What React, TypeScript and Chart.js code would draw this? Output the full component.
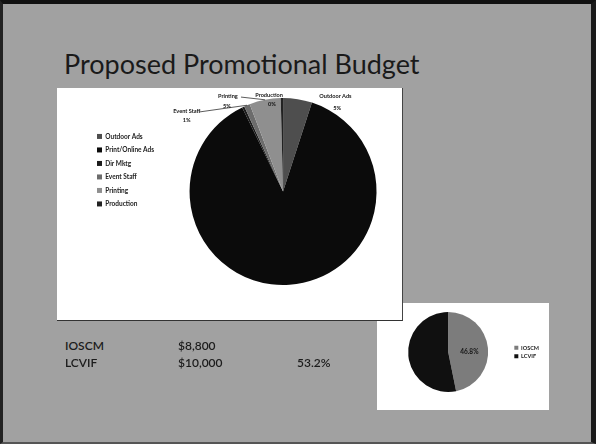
import React, { useEffect, useRef } from "react";
import { Chart, registerables } from "chart.js";
Chart.register(...registerables);

const titleText = "Proposed Promotional Budget";

const categories = ["Outdoor Ads", "Print/Online Ads", "Dir Mktg", "Event Staff", "Printing", "Production"];
const budgetShare = [500, 8780, 40, 100, 540, 40];
const sliceColors = ["#4e4e4e", "#0b0b0b", "#1c1c1c", "#6c6c6c", "#8f8f8f", "#222222"];

const orgNames = ["IOSCM", "LCVIF"];
const orgBudgets = [8800, 10000];
const orgColors = ["#7c7c7c", "#101010"];

const sliceLabelPlugin = {
  id: "sliceLabels",
  afterDatasetsDraw(chart: any, _args: any, opts: any) {
    if (!opts || !opts.items) return;
    const meta = chart.getDatasetMeta(0);
    const data = chart.data.datasets[0].data as number[];
    const total = data.reduce((a: number, b: number) => a + b, 0);
    const ctx = chart.ctx as CanvasRenderingContext2D;
    ctx.save();
    ctx.font = opts.font;
    ctx.fillStyle = opts.color;
    ctx.textAlign = "center";
    ctx.textBaseline = "middle";
    opts.items.forEach((item: any) => {
      const arc = meta.data[item.index];
      const p = arc.getProps(["x", "y", "outerRadius", "startAngle", "endAngle"], true);
      const r = p.outerRadius;
      const pct = ((data[item.index] / total) * 100).toFixed(opts.decimals) + "%";
      if (item.leader) {
        const mid = (p.startAngle + p.endAngle) / 2;
        ctx.strokeStyle = opts.color;
        ctx.lineWidth = 0.7;
        ctx.beginPath();
        ctx.moveTo(p.x + item.leader[0] * r, p.y + item.leader[1] * r);
        ctx.lineTo(p.x + Math.cos(mid) * r, p.y + Math.sin(mid) * r);
        ctx.stroke();
      }
      if (item.name) ctx.fillText(String(chart.data.labels[item.index]), p.x + item.name[0] * r, p.y + item.name[1] * r);
      ctx.fillText(pct, p.x + item.pct[0] * r, p.y + item.pct[1] * r);
    });
    ctx.restore();
  },
};

function MainPie() {
  const ref = useRef<HTMLCanvasElement>(null);
  useEffect(() => {
    const chart = new Chart(ref.current as HTMLCanvasElement, {
      type: "pie",
      data: {
        labels: categories,
        datasets: [{ data: budgetShare, backgroundColor: sliceColors, borderWidth: 0 }],
      },
      options: {
        animation: false,
        responsive: false,
        maintainAspectRatio: false,
        layout: { padding: { left: 33, right: 0, top: 10, bottom: 35 } },
        plugins: {
          legend: {
            position: "left",
            align: "start",
            title: { display: true, text: " ", padding: { top: 21, bottom: 0 }, font: { size: 6 } },
            labels: {
              boxWidth: 5,
              boxHeight: 5,
              padding: 7,
              color: "#222",
              font: { family: "Lato", size: 6.5, weight: "bold" },
            },
          },
          tooltip: { enabled: false },
          sliceLabels: {
            font: "bold 5.6px Lato",
            color: "#151515",
            decimals: 0,
            items: [
              { index: 0, name: [0.56, -1.02], pct: [0.58, -0.89] },
              { index: 3, name: [-1.03, -0.86], pct: [-1.03, -0.763], leader: [-0.9, -0.85] },
              { index: 4, name: [-0.59, -1.02], pct: [-0.6, -0.914], leader: [-0.45, -1.01] },
              { index: 5, name: [-0.15, -1.03], pct: [-0.12, -0.935] },
            ],
          },
        } as any,
      },
      plugins: [sliceLabelPlugin],
    });
    return () => chart.destroy();
  }, []);
  return <canvas ref={ref} width={345} height={232} style={{ width: 345, height: 232, display: "block" }} />;
}

function SmallPie() {
  const ref = useRef<HTMLCanvasElement>(null);
  useEffect(() => {
    const chart = new Chart(ref.current as HTMLCanvasElement, {
      type: "pie",
      data: {
        labels: orgNames,
        datasets: [{ data: orgBudgets, backgroundColor: orgColors, borderWidth: 0 }],
      },
      options: {
        animation: false,
        responsive: false,
        maintainAspectRatio: false,
        layout: { padding: { left: 8, right: 0, top: 9, bottom: 18 } },
        plugins: {
          legend: {
            position: "right",
            align: "center",
            labels: {
              boxWidth: 4,
              boxHeight: 4,
              padding: 3,
              color: "#222",
              font: { family: "Lato", size: 5.5, weight: "bold" },
            },
          },
          tooltip: { enabled: false },
          sliceLabels: {
            font: "bold 6.5px Lato",
            color: "#151515",
            decimals: 1,
            items: [{ index: 0, pct: [0.53, 0] }],
          },
        } as any,
      },
      plugins: [sliceLabelPlugin],
    });
    return () => chart.destroy();
  }, []);
  return <canvas ref={ref} width={172} height={107} style={{ width: 172, height: 107, display: "block" }} />;
}

const fmtMoney = (v: number) => "$" + v.toLocaleString("en-US");

export default function App() {
  const total = orgBudgets.reduce((a, b) => a + b, 0);
  const share = ((orgBudgets[1] / total) * 100).toFixed(1) + "%";
  const textStyle: React.CSSProperties = {
    position: "absolute",
    fontFamily: "Lato, 'Liberation Sans', sans-serif",
    fontSize: 12,
    lineHeight: 1,
    color: "#1c1c1c",
    fontWeight: 600,
    whiteSpace: "nowrap",
  };
  return (
    <div
      style={{
        position: "fixed",
        left: 0,
        top: 0,
        width: 596,
        height: 444,
        boxSizing: "border-box",
        borderTop: "4px solid #111",
        borderLeft: "3px solid #222",
        borderRight: "5px solid #1a1a1a",
        borderBottom: "2px solid #555",
        backgroundColor: "#a1a1a1",
        overflow: "hidden",
      }}
    >
      <div
        style={{
          position: "absolute",
          left: 61,
          top: 46,
          fontFamily: "Lato, 'Liberation Sans', sans-serif",
          fontSize: 27,
          lineHeight: 1,
          color: "#1a1a1a",
          whiteSpace: "nowrap",
        }}
      >
        {titleText}
      </div>
      <div style={{ position: "absolute", left: 374, top: 299, width: 172, height: 107, background: "#fff" }}>
        <SmallPie />
      </div>
      <div
        style={{
          position: "absolute",
          left: 54,
          top: 84,
          width: 345,
          height: 232,
          background: "#fff",
          borderRight: "1px solid #444",
          borderBottom: "1px solid #333",
        }}
      >
        <MainPie />
      </div>
      <div style={{ ...textStyle, left: 62, top: 336 }}>{orgNames[0]}</div>
      <div style={{ ...textStyle, left: 175, top: 336 }}>{fmtMoney(orgBudgets[0])}</div>
      <div style={{ ...textStyle, left: 62, top: 353 }}>{orgNames[1]}</div>
      <div style={{ ...textStyle, left: 175, top: 353 }}>{fmtMoney(orgBudgets[1])}</div>
      <div style={{ ...textStyle, left: 294, top: 353 }}>{share}</div>
    </div>
  );
}
